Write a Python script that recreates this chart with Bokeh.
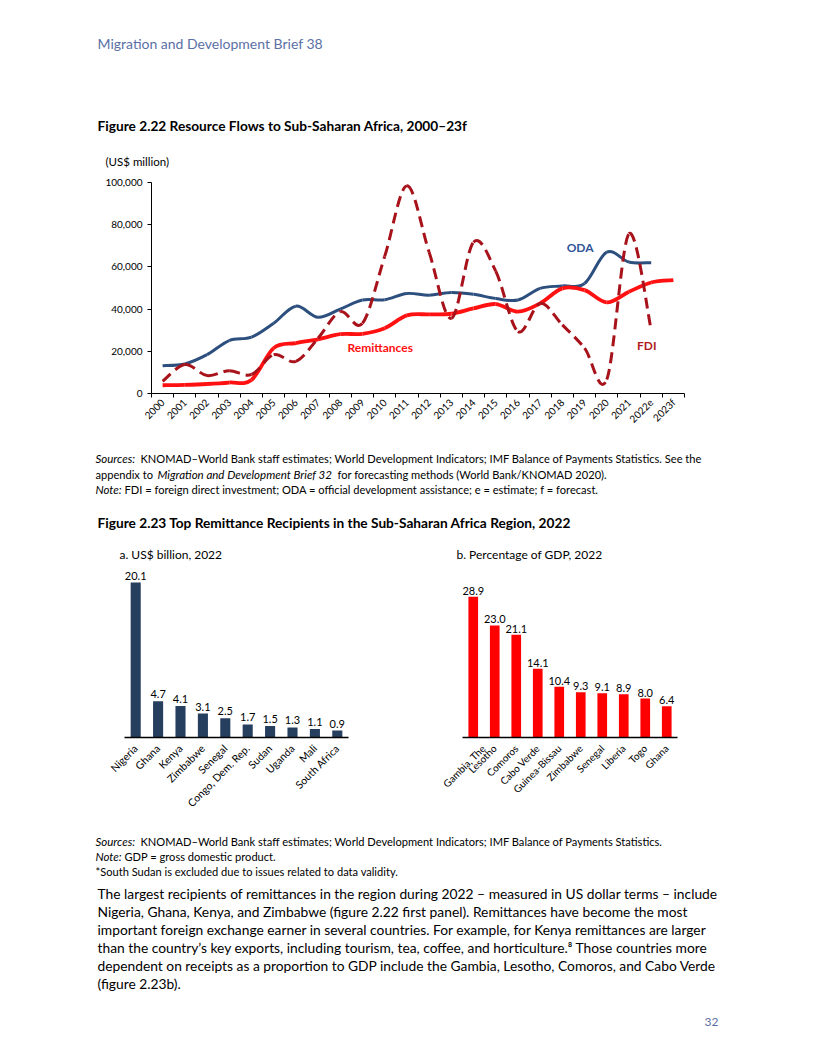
import math
from bokeh.plotting import figure
from bokeh.models import Range1d, FactorRange, FixedTicker, NumeralTickFormatter
from bokeh.layouts import column, row
from bokeh.embed import file_html
from bokeh.resources import INLINE
from bokeh.core.properties import value

FONT = "Lato"

# ---------------- data ----------------
years = ["2000", "2001", "2002", "2003", "2004", "2005", "2006", "2007", "2008", "2009",
         "2010", "2011", "2012", "2013", "2014", "2015", "2016", "2017", "2018", "2019",
         "2020", "2021", "2022e", "2023f"]
oda = [13200, 14000, 18400, 25100, 26700, 33300, 41400, 36100, 40000, 44300,
       44400, 47400, 46600, 47900, 47000, 45000, 44300, 49800, 51000, 52100,
       67000, 62300, 62000]
remittances = [3900, 4100, 4500, 5200, 6400, 21500, 23900, 25700, 28100, 28300,
               30900, 37000, 37500, 37800, 40300, 42400, 38800, 42700, 49800, 49000,
               43200, 48200, 52600, 53700]
fdi = [5800, 13700, 8500, 10800, 9000, 18400, 15200, 26200, 38800, 33300,
       65000, 98400, 67000, 35600, 71700, 58000, 29400, 42700, 32500, 21500,
       6600, 75700, 30100]
y_ticks = [0, 20000, 40000, 60000, 80000, 100000]

countries_usd = ["Nigeria", "Ghana", "Kenya", "Zimbabwe", "Senegal", "Congo, Dem. Rep.",
                 "Sudan", "Uganda", "Mali", "South Africa"]
usd_billion = [20.1, 4.7, 4.1, 3.1, 2.5, 1.7, 1.5, 1.3, 1.1, 0.9]

countries_gdp = ["Gambia, The", "Lesotho", "Comoros", "Cabo Verde", "Guinea-Bissau",
                 "Zimbabwe", "Senegal", "Liberia", "Togo", "Ghana"]
pct_gdp = [28.9, 23.0, 21.1, 14.1, 10.4, 9.3, 9.1, 8.9, 8.0, 6.4]

# ---------------- styles ----------------
HEAD_BLUE = "#5b70a6"
ODA_C = "#2c4f7e"
REM_C = "#ff1111"
FDI_C = "#a8121b"
BAR_A = "#263f5f"
BAR_B = "#ff0000"
NOTE = 11.1
NOTE_I = 11.5
BODY = 13.8
W = 816


def blank_fig(w, h):
    p = figure(width=w, height=h, x_range=Range1d(0, w), y_range=Range1d(h, 0),
               output_backend="svg", toolbar_location=None, min_border=0, frame_align=False)
    p.axis.visible = False
    p.grid.visible = False
    p.outline_line_color = None
    return p


def put(p, x, y, txt, size, style="normal", color="#000000", align="left"):
    p.text(x=[x], y=[y], text=[txt], text_font=value(FONT), text_font_size=f"{size}px",
           text_font_style=style, text_color=color, text_baseline="middle", text_align=align)


# ---------------- top text (page y 0-170) ----------------
top = blank_fig(W, 170)
put(top, 97, 43, "Migration and Development Brief 38", 14, color=HEAD_BLUE)
put(top, 97, 125, "Figure 2.22 Resource Flows to Sub-Saharan Africa, 2000\u201323f", 13.7, "bold")
put(top, 105, 161, "(US$ million)", 11.5)

# ---------------- line chart (page y 170-432) ----------------
lc = figure(width=W, height=262, x_range=Range1d(-0.5, 23.5), y_range=Range1d(0, 100000),
            min_border_left=151, min_border_right=132, min_border_top=12, min_border_bottom=38,
            output_backend="svg", toolbar_location=None, frame_align=False)
lc.grid.visible = False
lc.outline_line_color = None


def bezier_parts(ys):
    xs = list(range(len(ys)))
    n = len(ys)
    out = {k: [] for k in ["x0", "y0", "x1", "y1", "cx0", "cy0", "cx1", "cy1"]}
    for i in range(n - 1):
        a = i - 1 if i > 0 else i
        d = i + 2 if i + 2 < n else i + 1
        out["x0"].append(xs[i]); out["y0"].append(ys[i])
        out["x1"].append(xs[i + 1]); out["y1"].append(ys[i + 1])
        out["cx0"].append(xs[i] + (xs[i + 1] - xs[a]) / 6)
        out["cy0"].append(ys[i] + (ys[i + 1] - ys[a]) / 6)
        out["cx1"].append(xs[i + 1] - (xs[d] - xs[i]) / 6)
        out["cy1"].append(ys[i + 1] - (ys[d] - ys[i]) / 6)
    return out


lc.bezier(**bezier_parts(oda), line_color=ODA_C, line_width=3)
lc.bezier(**bezier_parts(remittances), line_color=REM_C, line_width=3.8)
lc.bezier(**bezier_parts(fdi), line_color=FDI_C, line_width=3, line_dash="11 6")

# series labels (annotation positions)
for lx, ly, lt, lcol in [(9.8, 21700, "Remittances", REM_C), (18.8, 69000, "ODA", "#2f5597"),
                         (21.8, 22600, "FDI", "#b01c22")]:
    lc.text(x=[lx], y=[ly], text=[lt], text_font=value(FONT), text_font_size="12px",
            text_font_style="bold", text_color=lcol, text_align="center", text_baseline="middle")

xa = lc.xaxis[0]
xa.ticker = FixedTicker(ticks=list(range(len(years))),
                        minor_ticks=[i - 0.5 for i in range(len(years) + 1)])
xa.major_label_overrides = {i: y for i, y in enumerate(years)}
xa.major_label_orientation = math.pi / 4
xa.major_tick_out = 0
xa.major_tick_in = 0
xa.minor_tick_out = 4
xa.minor_tick_in = 0
xa.minor_tick_line_color = "#000000"
xa.axis_line_color = "#000000"
xa.major_label_text_font = FONT
xa.major_label_text_font_size = "10px"
xa.major_label_text_color = "#000000"
xa.major_label_standoff = 3

ya = lc.yaxis[0]
ya.ticker = FixedTicker(ticks=y_ticks)
ya.formatter = NumeralTickFormatter(format="0,0")
ya.major_tick_out = 4
ya.major_tick_in = 0
ya.minor_tick_line_color = None
ya.axis_line_color = "#000000"
ya.major_tick_line_color = "#000000"
ya.major_label_text_font = FONT
ya.major_label_text_font_size = "10px"
ya.major_label_text_color = "#000000"
ya.major_label_standoff = 5

# ---------------- middle text (page y 432-564) ----------------
mid = blank_fig(W, 132)
o = 432
put(mid, 95, 458 - o, "Sources:", NOTE_I, "italic")
put(mid, 140, 458 - o, "KNOMAD\u2013World Bank staff estimates; World Development Indicators; IMF Balance of Payments Statistics. See the", NOTE)
put(mid, 95, 474 - o, "appendix to", NOTE)
put(mid, 157, 474 - o, "Migration and Development Brief 32", NOTE_I, "italic")
put(mid, 337, 474 - o, "for forecasting methods (World Bank/KNOMAD 2020).", NOTE)
put(mid, 95, 489 - o, "Note:", NOTE_I, "italic")
put(mid, 124, 489 - o, "FDI = foreign direct investment; ODA = official development assistance; e = estimate; f = forecast.", NOTE)
put(mid, 97, 522 - o, "Figure 2.23 Top Remittance Recipients in the Sub-Saharan Africa Region, 2022", 13.7, "bold")
put(mid, 119, 554 - o, "a. US$ billion, 2022", 12)
put(mid, 456, 554 - o, "b. Percentage of GDP, 2022", 12)


# ---------------- bar charts (page y 564-820) ----------------
def bar_fig(w, cats, vals, color, ymax, left, right, off, lab_size):
    p = figure(width=w, height=256, x_range=FactorRange(*cats), y_range=Range1d(0, ymax),
               min_border_left=left, min_border_right=right, min_border_top=0, min_border_bottom=83,
               output_backend="svg", toolbar_location=None, frame_align=False)
    p.grid.visible = False
    p.outline_line_color = None
    p.yaxis.visible = False
    p.vbar(x=cats, top=vals, width=0.45, fill_color=color, line_color=None)
    p.text(x=cats, y=vals, text=[f"{v:.1f}" for v in vals], text_font=value(FONT),
           text_font_size="11px", text_color="#000000", text_align="center",
           text_baseline="alphabetic", y_offset=off)
    ax = p.xaxis[0]
    ax.axis_line_width = 1.5
    ax.axis_line_color = "#000000"
    ax.major_tick_line_color = None
    ax.minor_tick_line_color = None
    ax.major_label_orientation = math.pi / 4
    ax.major_label_text_font = FONT
    ax.major_label_text_font_size = lab_size
    ax.major_label_text_color = "#000000"
    ax.major_label_standoff = 3
    return p


ba = bar_fig(440, countries_usd, usd_billion, BAR_A, 173 / 7.71, 124, 92, -7, "10.5px")
bb = bar_fig(376, countries_gdp, pct_gdp, BAR_B, 173 / 4.87, 22, 139, -6, "10px")

# ---------------- bottom text (page y 820-1056) ----------------
bot = blank_fig(W, 236)
o = 820
put(bot, 95, 841 - o, "Sources:", NOTE_I, "italic")
put(bot, 140, 841 - o, "KNOMAD\u2013World Bank staff estimates; World Development Indicators; IMF Balance of Payments Statistics.", NOTE)
put(bot, 95, 856 - o, "Note:", NOTE_I, "italic")
put(bot, 124, 856 - o, "GDP = gross domestic product.", NOTE)
put(bot, 95, 871 - o, "*South Sudan is excluded due to issues related to data validity.", NOTE)
body = [
    "The largest recipients of remittances in the region during 2022 \u2013 measured in US dollar terms \u2013 include",
    "Nigeria, Ghana, Kenya, and Zimbabwe (figure 2.22 first panel). Remittances have become the most",
    "important foreign exchange earner in several countries. For example, for Kenya remittances are larger",
    "than the country\u2019s key exports, including tourism, tea, coffee, and horticulture.\u2078 Those countries more",
    "dependent on receipts as a proportion to GDP include the Gambia, Lesotho, Comoros, and Cabo Verde",
    "(figure 2.23b).",
]
for i, line in enumerate(body):
    put(bot, 97, 893 - o + 18 * i, line, BODY)
put(bot, 718, 1021 - o, "32", 12, color=HEAD_BLUE, align="right")

page = column(top, lc, mid, row(ba, bb), bot)
open("out.html", "w").write(file_html(page, INLINE))
